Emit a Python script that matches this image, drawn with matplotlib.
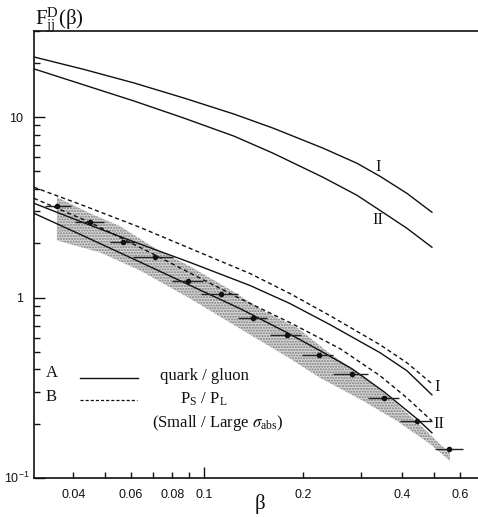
import matplotlib
matplotlib.use("Agg")
import matplotlib.pyplot as plt
import numpy as np

# ---- data (beta, F_jj^D) ----
UP_BETA = [0.0304, 0.0432, 0.0613, 0.0869, 0.1234, 0.1621, 0.2300, 0.2917,
           0.3428, 0.4140, 0.4932]
UP_I = [21.54, 18.36, 15.45, 12.75, 10.39, 8.69, 6.73, 5.55, 4.70, 3.78, 2.97]
UP_II = [18.5, 15.06, 12.27, 9.87, 7.84, 6.31, 4.64, 3.69, 3.04, 2.42, 1.90]

AI_BETA = [0.0304, 0.0420, 0.0596, 0.0907, 0.1380, 0.1826, 0.2415, 0.3428,
           0.4140, 0.4932]
AI_F = [3.329, 2.644, 2.074, 1.565, 1.166, 0.926, 0.708, 0.495, 0.393, 0.289]
BI_BETA = [0.0304, 0.0420, 0.0639, 0.0907, 0.1380, 0.1826, 0.2415, 0.3428,
           0.4140, 0.4932]
BI_F = [4.084, 3.286, 2.448, 1.872, 1.359, 1.052, 0.794, 0.548, 0.435, 0.333]
BII_BETA = [0.0304, 0.0450, 0.0685, 0.1286, 0.1826, 0.2591, 0.3428, 0.4140,
            0.4932]
BII_F = [3.548, 2.610, 1.778, 0.987, 0.726, 0.521, 0.369, 0.278, 0.207]
AII_BETA = [0.0304, 0.0420, 0.0596, 0.1286, 0.1788, 0.2253, 0.2817, 0.3525,
            0.4441, 0.4932]
AII_F = [2.929, 2.239, 1.668, 0.869, 0.639, 0.508, 0.403, 0.3005, 0.2128, 0.178]

BAND_UP_BETA = [0.0357, 0.0450, 0.0556, 0.0720, 0.0907, 0.1199, 0.1511, 0.1918,
                0.2415, 0.3043, 0.3861, 0.4631, 0.5215, 0.5594]
BAND_UP_F = [3.594, 2.929, 2.481, 1.848, 1.487, 1.108, 0.847, 0.681,
             0.489, 0.369, 0.258, 0.190, 0.1545, 0.1377]
BAND_LO_BETA = [0.0357, 0.0483, 0.0639, 0.0907, 0.1286, 0.1826, 0.2253,
                0.3043, 0.3861, 0.4864, 0.5594]
BAND_LO_F = [2.074, 1.778, 1.413, 0.987, 0.673, 0.459, 0.359,
             0.268, 0.207, 0.1545, 0.1243]

PT_BETA = [0.0357, 0.0450, 0.0567, 0.0710, 0.0894, 0.1126, 0.141, 0.179,
           0.224, 0.282, 0.352, 0.444, 0.556]
PT_F = [3.20, 2.61, 2.02, 1.67, 1.243, 1.052, 0.774, 0.623,
        0.482, 0.378, 0.278, 0.207, 0.145]
PT_LO = [0.0329, 0.0405, 0.0518, 0.0608, 0.0800, 0.0979, 0.127, 0.1587,
         0.1986, 0.2466, 0.315, 0.394, 0.504]
PT_HI = [0.0394, 0.0497, 0.0617, 0.0805, 0.0993, 0.1268, 0.155, 0.197,
         0.2466, 0.315, 0.392, 0.493, 0.612]

X_MINOR = [0.04, 0.05, 0.06, 0.07, 0.08, 0.09, 0.2, 0.3, 0.4, 0.5, 0.6]
X_MINOR_LABELS = ["0.04", "", "0.06", "", "0.08", "", "0.2", "", "0.4", "", "0.6"]

plt.rcParams["mathtext.fontset"] = "stix"
SERIF = "Liberation Serif"
SANS = "Liberation Sans"
INK = "#111111"

fig = plt.figure(figsize=(4.78, 5.17), dpi=100)
ax = fig.add_axes([34 / 478, 39 / 517, 444 / 478, 447 / 517])
ax.set_xscale("log")
ax.set_yscale("log")
ax.set_xlim(0.0304, 0.681)
ax.set_ylim(0.1, 30.0)

# shaded (stippled) band
bx = np.concatenate([BAND_UP_BETA, BAND_LO_BETA[::-1]])
by = np.concatenate([BAND_UP_F, BAND_LO_F[::-1]])
ax.fill(bx, by, facecolor="#d6d6d6", edgecolor="#7c7c7c", hatch="......",
        linewidth=0, zorder=1)

lw = 1.0
dash = (0, (3, 2.2))
ax.plot(UP_BETA, UP_I, color=INK, lw=lw, zorder=3)
ax.plot(UP_BETA, UP_II, color=INK, lw=lw, zorder=3)
ax.plot(AI_BETA, AI_F, color=INK, lw=lw, zorder=3)
ax.plot(AII_BETA, AII_F, color=INK, lw=lw, zorder=3)
ax.plot(BI_BETA, BI_F, color=INK, lw=lw, ls=dash, zorder=3)
ax.plot(BII_BETA, BII_F, color=INK, lw=lw, ls=dash, zorder=3)

pb = np.array(PT_BETA)
ax.errorbar(pb, PT_F, xerr=[pb - np.array(PT_LO), np.array(PT_HI) - pb],
            fmt="o", ms=3.0, color=INK, ecolor="#222222", elinewidth=1.0,
            capsize=0, zorder=4)

# curve labels
kw = dict(family=SERIF, fontsize=12, color=INK, ha="center", va="center")
ax.text(0.338, 5.27, "I", **kw)
ax.text(0.338, 2.68, "II", **kw)
ax.text(0.512, 0.321, "I", **kw)
ax.text(0.517, 0.1995, "II", **kw)

# legend block
lk = dict(family=SERIF, fontsize=12, color=INK, va="center", transform=ax.transAxes)
ax.text(0.027, 0.234, "A", ha="left", **lk)
ax.text(0.027, 0.182, "B", ha="left", **lk)
ax.plot([0.104, 0.234], [0.224, 0.224], color=INK, lw=lw, transform=ax.transAxes)
ax.plot([0.104, 0.232], [0.174, 0.174], color=INK, lw=0.9, ls=(0, (2.5, 1.6)),
        transform=ax.transAxes)
ax.text(0.383, 0.228, "quark / gluon", ha="center", **lk)
ax.text(0.383, 0.176, r"P$_{\mathregular{S}}$ / P$_{\mathregular{L}}$",
        ha="center", **lk)
ax.text(0.414, 0.124, r"(Small / Large $\sigma_{\mathregular{abs}}$)",
        ha="center", **lk)

# axes styling
ax.spines["right"].set_visible(False)
for s in ("left", "bottom", "top"):
    ax.spines[s].set_linewidth(1.2)
    ax.spines[s].set_color(INK)

ax.set_xticks([0.1])
ax.set_xticklabels(["0.1"])
ax.set_xticks(X_MINOR, minor=True)
ax.set_xticklabels(X_MINOR_LABELS, minor=True)
ax.set_yticks([0.1, 1, 10])
ax.set_yticklabels(["", "1", "10"])
ax.yaxis.set_minor_formatter(matplotlib.ticker.NullFormatter())
ax.tick_params(axis="both", which="major", direction="in", length=8, width=1,
               labelsize=9, colors=INK, top=False, right=False)
ax.tick_params(axis="both", which="minor", direction="in", length=4.5, width=1,
               labelsize=9, colors=INK, top=False, right=False)
ax.tick_params(axis="x", which="both", pad=8)
ax.tick_params(axis="y", which="both", pad=8)
for lab in ax.get_xticklabels(which="both") + ax.get_yticklabels():
    lab.set_family(SANS)
ax.annotate(r"10$^{\mathregular{-1}}$", xy=(0, 0.1),
            xycoords=("axes fraction", "data"), xytext=(-3, 0),
            textcoords="offset points", ha="right", va="center",
            family=SANS, fontsize=9, color=INK)

fig.text(35 / 478, 1 - 20 / 517,
         r"F$^{\mathregular{D}}_{\mathregular{jj}}$(β)", family=SERIF,
         fontsize=15, color=INK, ha="left", va="center")
fig.text(260 / 478, 1 - 504 / 517, "β", family=SERIF, fontsize=15, color=INK,
         ha="center", va="center")

fig.savefig("out.png", dpi=100)
